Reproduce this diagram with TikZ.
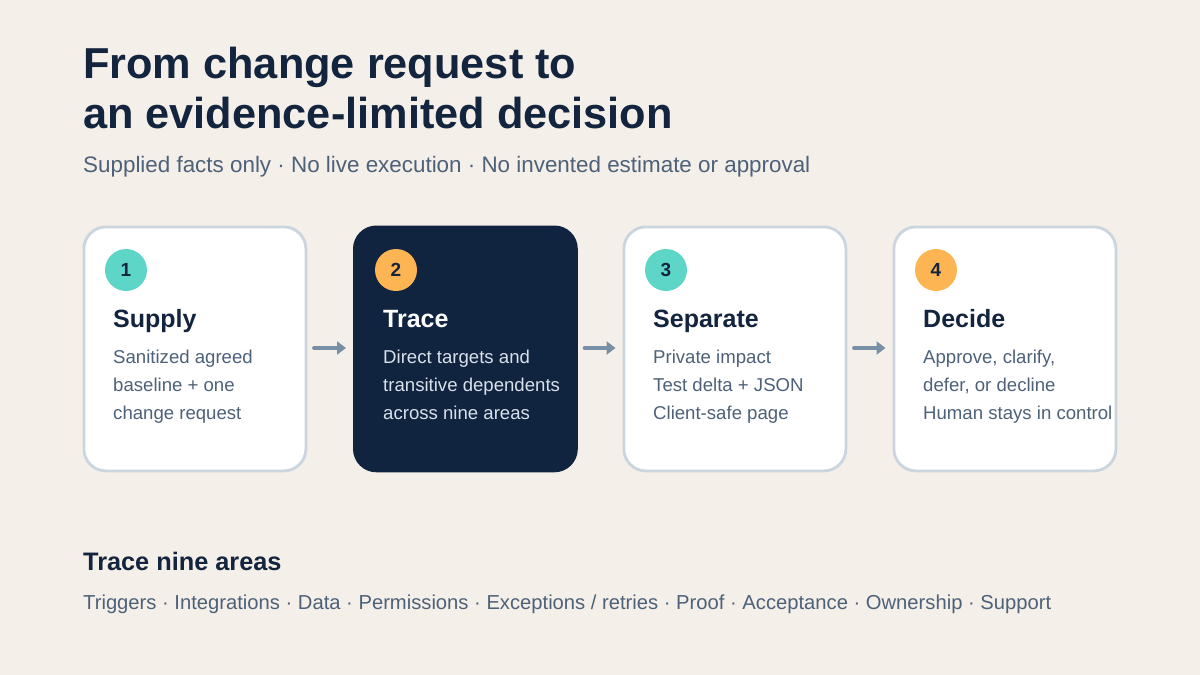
\documentclass[tikz,border=0pt]{standalone}
\usepackage{fontspec}
\setmainfont{Liberation Sans}
\usetikzlibrary{arrows.meta}
\definecolor{bg}{HTML}{F4EFE8}
\definecolor{navy}{HTML}{13243F}
\definecolor{slate}{HTML}{4D6179}
\definecolor{cardline}{HTML}{CBD5DF}
\definecolor{darkcard}{HTML}{10233F}
\definecolor{lighttext}{HTML}{D9E1EA}
\definecolor{teal}{HTML}{5DD6C8}
\definecolor{amber}{HTML}{FDB452}
\definecolor{arrowc}{HTML}{7890A6}
\tikzset{
  card/.style={rounded corners=22pt, draw=cardline, line width=2.8pt, fill=white, minimum width=222pt, minimum height=244pt, anchor=north west, inner sep=0pt},
  darkbox/.style={card, draw=darkcard, fill=darkcard},
  badge/.style={circle, minimum size=42pt, inner sep=0pt, text=navy, font=\fontsize{19}{21}\selectfont\bfseries},
  cardtitle/.style={anchor=base west, inner sep=0pt, text=navy, font=\fontsize{25}{30}\selectfont\bfseries},
  cardbody/.style={anchor=north west, inner sep=0pt, text=slate, align=left, font=\fontsize{18.6}{28}\selectfont},
  flow/.style={-{Triangle[length=9pt,width=13pt]}, line width=4.5pt, draw=arrowc, line cap=round, shorten <=7pt, shorten >=7pt}
}
\begin{document}
\begin{tikzpicture}[x=1pt,y=-1pt]
\useasboundingbox[fill=bg] (0,0) rectangle (1200,675);
% heading
\node[anchor=base west, inner sep=0pt, text=navy, font=\fontsize{43.3}{50}\selectfont\bfseries] (t1) at (83,78) {From change request to};
\node[anchor=base west, inner sep=0pt, text=navy, font=\fontsize{43.3}{50}\selectfont\bfseries] (t2) at (83,128) {an evidence-limited decision};
\node[anchor=base west, inner sep=0pt, text=slate, font=\fontsize{22.4}{26}\selectfont] (sub) at (83,172) {Supplied facts only · No live execution · No invented estimate or approval};
% cards
\node[card] (c1) at (82.5,225.5) {};
\node[darkbox] (c2) at (353,225.5) {};
\node[card] (c3) at (622.5,225.5) {};
\node[card] (c4) at (892.5,225.5) {};
% badges
\node[badge, fill=teal] (b1) at (126,270) {1};
\node[badge, fill=amber] (b2) at (396,270) {2};
\node[badge, fill=teal] (b3) at (666,270) {3};
\node[badge, fill=amber] (b4) at (936,270) {4};
% titles
\node[cardtitle] (h1) at (113,327) {Supply};
\node[cardtitle, text=white] (h2) at (383,327) {Trace};
\node[cardtitle] (h3) at (653,327) {Separate};
\node[cardtitle] (h4) at (923,327) {Decide};
% bodies
\node[cardbody] (d1) at (113,350) {Sanitized agreed\\baseline + one\\change request};
\node[cardbody, text=lighttext] (d2) at (383,350) {Direct targets and\\transitive dependents\\across nine areas};
\node[cardbody] (d3) at (653,350) {Private impact\\Test delta + JSON\\Client-safe page};
\node[cardbody] (d4) at (923,350) {Approve, clarify,\\defer, or decline\\Human stays in control};
% arrows
\draw[flow] (c1.east |- 0,348) -- (c2.west |- 0,348);
\draw[flow] (c2.east |- 0,348) -- (c3.west |- 0,348);
\draw[flow] (c3.east |- 0,348) -- (c4.west |- 0,348);
% bottom
\node[anchor=base west, inner sep=0pt, text=navy, font=\fontsize{25.3}{30}\selectfont\bfseries] (areas) at (83,570) {Trace nine areas};
\node[anchor=base west, inner sep=0pt, text=slate, font=\fontsize{20.2}{24}\selectfont] (list) at (83,609) {Triggers · Integrations · Data · Permissions · Exceptions / retries · Proof · Acceptance · Ownership · Support};
\end{tikzpicture}
\end{document}
